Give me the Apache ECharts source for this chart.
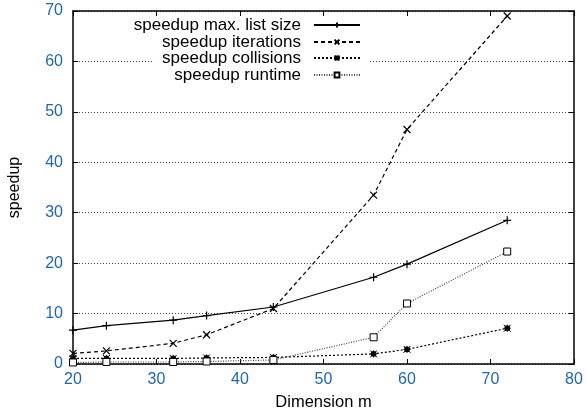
<!DOCTYPE html>
<html>
<head>
<meta charset="utf-8">
<script src="https://cdn.jsdelivr.net/npm/echarts@6/dist/echarts.min.js"></script>
<style>html,body{margin:0;padding:0;background:#fff}#c{width:587px;height:413px}</style>
</head>
<body>
<div id="c"></div>
<script>
var dims = [20, 24, 32, 36, 44, 56, 60, 72];
var listSize = [6.7, 7.6, 8.7, 9.6, 11.3, 17.2, 19.8, 28.5];
var iterations = [2.1, 2.6, 4.1, 5.8, 11.0, 33.5, 46.5, 69.0];
var collisions = [1.1, 1.1, 1.1, 1.2, 1.3, 2.0, 2.9, 7.1];
var runtime = [0.3, 0.4, 0.4, 0.5, 0.8, 5.3, 12.0, 22.3];
var names = ['speedup max. list size', 'speedup iterations', 'speedup collisions', 'speedup runtime'];
var xTicks = [20, 30, 40, 50, 60, 70, 80];
var yTicks = [0, 10, 20, 30, 40, 50, 60, 70];

function pairs(ys) { return dims.map(function (d, i) { return [d, ys[i]]; }); }

var FONT = '"Liberation Sans", Arial, Helvetica, sans-serif';
var BLUE = '#1f66b0';
var PLUS = 'path://M0,5L10,5M5,0L5,10';
var CROSS = 'path://M0,0L10,10M10,0L0,10';
var STAR = 'path://M0,0L10,10M10,0L0,10M5,0L5,10M0,5L10,5M2,2L8,2L8,8L2,8Z';

var chart = echarts.init(document.getElementById('c'), null, {renderer: 'canvas'});

var axisLine = {show: true, onZero: false, lineStyle: {color: '#000', width: 1.5}};
var axisTick = {show: true, inside: true, length: 5, lineStyle: {color: '#000', width: 1}};

var legendCenters = [25, 42, 58, 75];
var legends = names.map(function (n, i) {
  return {
    data: [n], orient: 'vertical', align: 'right', right: 218, top: legendCenters[i] - 9,
    itemWidth: 46, itemHeight: 6, itemGap: 0,
    padding: [0, 8, 0, 8], backgroundColor: '#fff',
    textStyle: {fontFamily: FONT, fontSize: 17, lineHeight: 18, color: '#000', padding: [0, 8, 0, 0]},
    selectedMode: false
  };
});

function ser(name, ys, dash, color, symbol, size, fill, bw) {
  return {
    name: name, type: 'line', data: pairs(ys), xAxisIndex: 0, yAxisIndex: 0,
    symbol: symbol, symbolSize: size, showAllSymbol: true,
    lineStyle: {color: color, width: 1.2, type: dash},
    itemStyle: {color: fill, borderColor: '#000', borderWidth: bw},
    emphasis: {disabled: true}, animation: false, z: 3
  };
}

chart.setOption({
  animation: false,
  grid: {left: 73, right: 13, top: 11, bottom: 49, containLabel: false, outerBoundsMode: 'none'},
  legend: legends,
  xAxis: [{
    type: 'value', min: 20, max: 80, interval: 10, position: 'bottom',
    name: 'Dimension m', nameLocation: 'middle', nameGap: 30,
    nameTextStyle: {fontFamily: FONT, fontSize: 16.5, color: '#000'},
    axisLine: axisLine, axisTick: axisTick,
    axisLabel: {fontFamily: FONT, fontSize: 16, color: BLUE, margin: 8,
      formatter: function (v) { return xTicks.indexOf(v) >= 0 ? String(v) : ''; }},
    splitLine: {show: false}
  }, {
    type: 'value', min: 20, max: 80, interval: 10, position: 'top',
    axisLine: axisLine, axisTick: axisTick, axisLabel: {show: false}, splitLine: {show: false}
  }],
  yAxis: [{
    type: 'value', min: 0, max: 70, interval: 10, position: 'left',
    name: 'speedup', nameLocation: 'middle', nameGap: 50, nameRotate: 90,
    nameTextStyle: {fontFamily: FONT, fontSize: 16, color: '#000'},
    axisLine: axisLine, axisTick: axisTick,
    axisLabel: {fontFamily: FONT, fontSize: 16, color: BLUE, margin: 10,
      formatter: function (v) { return yTicks.indexOf(v) >= 0 ? String(v) : ''; }},
    splitLine: {show: true, lineStyle: {color: '#444', width: 1, type: [1, 2]}}
  }, {
    type: 'value', min: 0, max: 70, interval: 10, position: 'right',
    axisLine: axisLine, axisTick: axisTick, axisLabel: {show: false}, splitLine: {show: false}
  }],
  series: [
    ser(names[0], listSize, 'solid', '#000', PLUS, 8, 'none', 1.2),
    ser(names[1], iterations, [4, 3], '#000', CROSS, 7, 'none', 1.2),
    ser(names[2], collisions, [2, 2], '#000', STAR, 7, '#000', 1),
    ser(names[3], runtime, [1, 1.5], '#444', 'rect', 7, '#fff', 1)
  ]
});
</script>
</body>
</html>
